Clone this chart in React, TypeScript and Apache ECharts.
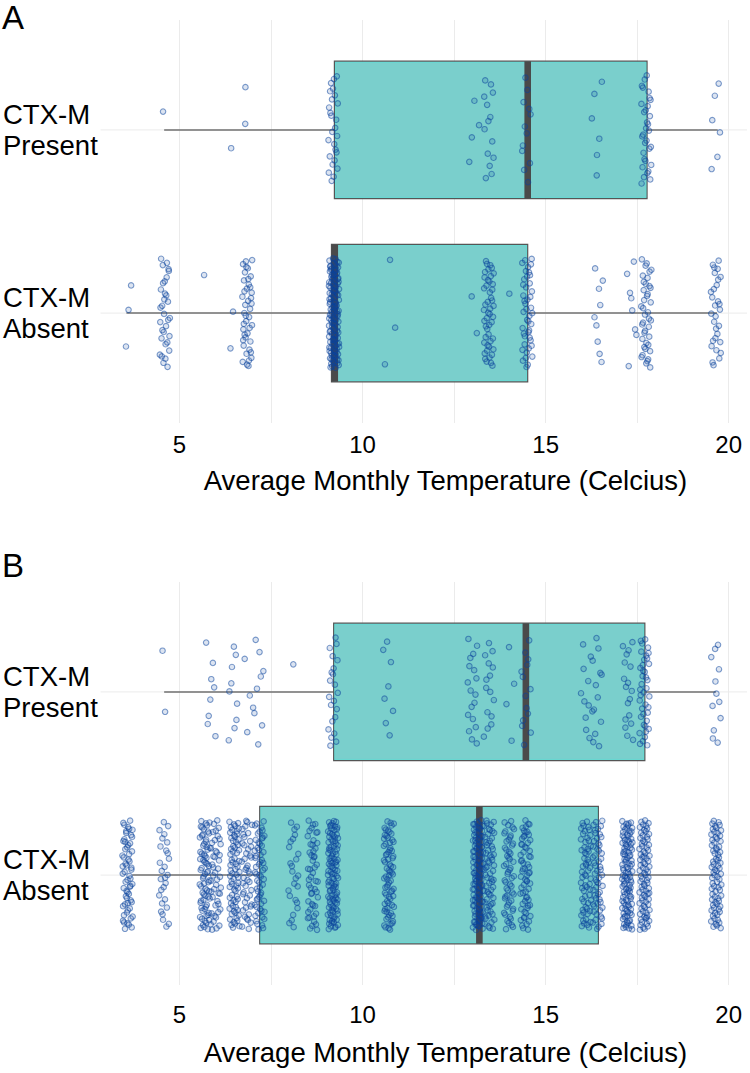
import React, { useEffect, useRef } from "react";
import * as echarts from "echarts";

// ---------------- data ----------------
const categories = ["CTX-M\nPresent", "CTX-M\nAbsent"];
const xTickValues = [5, 10, 15, 20];
const axisTitle = "Average Monthly Temperature (Celcius)";
const panelLabels = ["A", "B"];

// box statistics [min, Q1, median, Q3, max]
const boxAPresent = [4.58, 9.23, 14.51, 17.77, 19.7];
const boxAAbsent = [3.55, 9.15, 9.24, 14.51, 19.68];
const boxBPresent = [4.58, 9.21, 14.46, 17.71, 19.65];
const boxBAbsent = [3.71, 7.19, 13.19, 16.44, 19.56];

// observed temperature clusters (value, number of points)
const aPresentTemps = [4.55, 6.48, 6.73, 6.9, 9.2, 13.05, 13.45, 14.47, 16.4, 17.75, 19.65];
const aPresentCounts = [1, 1, 1, 1, 26, 4, 14, 12, 6, 32, 6];

const aAbsentTemps = [3.55, 4.6, 5.8, 6.45, 6.85, 9.22, 10.75, 13.05, 13.45, 14.1, 14.5, 16.45, 17.35, 17.75, 19.65];
const aAbsentCounts = [3, 32, 1, 2, 42, 130, 3, 2, 48, 1, 44, 9, 8, 40, 30];

const bPresentTemps = [4.58, 5.85, 6.45, 6.85, 7.15, 8.23, 9.2, 10.7, 13.0, 13.45, 14.05, 14.47, 16.1, 16.4, 17.25, 17.7, 19.65];
const bPresentCounts = [2, 8, 9, 3, 9, 1, 22, 8, 18, 15, 4, 14, 10, 13, 18, 40, 12];

const bAbsentTemps = [3.58, 4.58, 5.69, 5.99, 6.5, 6.84, 7.19, 8.11, 8.64, 9.19, 10.72, 13.15, 13.46, 14.0, 14.45, 16.1, 16.42, 17.23, 17.7, 19.66];
const bAbsentCounts = [60, 28, 70, 45, 70, 45, 60, 25, 50, 110, 75, 120, 65, 55, 65, 60, 55, 110, 85, 75];

// ---------------- presentation constants ----------------
const FONT = "'Liberation Sans', Arial, Helvetica, sans-serif";
const X_MIN = 2.5;
const X_MAX = 20.5;
const X_STEP = 2.5;
const PANEL_X_START = 2.843;
const BOX_WIDTH = 0.75;
const JITTER_X = 0.14;
const JITTER_Y = 0.3;

// deterministic low-discrepancy sequence used only for display jitter
function halton(i: number, b: number) {
  let f = 1;
  let r = 0;
  let n = i;
  while (n > 0) {
    f /= b;
    r += f * (n % b);
    n = Math.floor(n / b);
  }
  return r;
}

function jitterPoints(temps: number[], counts: number[], cat: number, seed: number) {
  const pts: number[][] = [];
  let k = seed;
  temps.forEach((t, ci) => {
    for (let j = 0; j < counts[ci]; j++) {
      k += 1;
      const dx = (halton(k, 2) - 0.5) * 2 * JITTER_X;
      const dy = (halton(k, 3) - 0.5) * 2 * JITTER_Y;
      pts.push([t + dx, cat + dy]);
    }
  });
  return pts;
}

function boxRender(params: any, api: any) {
  const cat = api.value(0);
  const mn = api.value(1);
  const q1 = api.value(2);
  const md = api.value(3);
  const q3 = api.value(4);
  const mx = api.value(5);
  const h = api.size([0, BOX_WIDTH])[1];
  const gL = api.coord([PANEL_X_START, cat]);
  const gR = api.coord([X_MAX, cat]);
  const pMin = api.coord([mn, cat]);
  const pQ1 = api.coord([q1, cat]);
  const pMd = api.coord([md, cat]);
  const pQ3 = api.coord([q3, cat]);
  const pMax = api.coord([mx, cat]);
  const cy = pQ1[1];
  return {
    type: "group",
    children: [
      { type: "line", shape: { x1: gL[0], y1: cy, x2: gR[0], y2: cy }, style: { stroke: "#ebebeb", lineWidth: 1 } },
      { type: "line", shape: { x1: pMin[0], y1: cy, x2: pQ1[0], y2: cy }, style: { stroke: "#717171", lineWidth: 1.5 } },
      { type: "line", shape: { x1: pQ3[0], y1: cy, x2: pMax[0], y2: cy }, style: { stroke: "#717171", lineWidth: 1.5 } },
      {
        type: "rect",
        shape: { x: pQ1[0], y: cy - h / 2, width: pQ3[0] - pQ1[0], height: h },
        style: { fill: "#7acfcc", stroke: "#555555", lineWidth: 1.2 },
      },
      {
        type: "rect",
        shape: { x: pQ1[0] + 1.2, y: cy - h / 2 + 1.2, width: pQ3[0] - pQ1[0] - 2.4, height: h - 2.4 },
        style: { fill: "none", stroke: "rgba(90,225,215,0.7)", lineWidth: 0.8 },
      },
      {
        type: "rect",
        shape: { x: pMd[0] - 3.3, y: cy - h / 2, width: 6.6, height: h },
        style: { fill: "#4a4a4a" },
      },
    ],
  };
}

export default function App() {
  const ref = useRef<HTMLDivElement>(null);

  useEffect(() => {
    if (!ref.current) return;
    const chart = echarts.init(ref.current, undefined, { renderer: "svg" });

    const xAxisBase = (labelMargin: number, nameGap: number, gridIndex: number) => ({
      type: "value",
      gridIndex,
      min: X_MIN,
      max: X_MAX,
      interval: X_STEP,
      axisLine: { show: false },
      axisTick: { show: false },
      axisLabel: {
        margin: labelMargin,
        fontSize: 24,
        color: "#000",
        fontFamily: FONT,
        formatter: (v: number) => (xTickValues.indexOf(v) >= 0 ? String(v) : ""),
      },
      splitLine: { show: true, showMinLine: false, showMaxLine: false, lineStyle: { color: "#ebebeb", width: 1 } },
      name: axisTitle,
      nameLocation: "middle",
      nameGap,
      nameTextStyle: { fontSize: 27.5, color: "#000", fontFamily: FONT, padding: [0, 0, 0, 56] },
    });

    const yAxisBase = (gridIndex: number) => ({
      type: "value",
      gridIndex,
      min: 0.4,
      max: 2.6,
      inverse: true,
      axisLine: { show: false },
      axisTick: { show: false },
      splitLine: { show: false },
      axisLabel: {
        customValues: [1, 2],
        formatter: (v: number) => (v === 1 || v === 2 ? categories[v - 1] : ""),
        align: "left",
        margin: 85,
        fontSize: 27.5,
        lineHeight: 31,
        padding: [8, 0, 0, 0],
        color: "#000",
        fontFamily: FONT,
      },
    });

    const scatterStyle = {
      type: "scatter",
      symbol: "circle",
      symbolSize: 5.5,
      z: 5,
      itemStyle: { color: "rgba(12,68,156,0.18)", borderColor: "rgba(12,68,156,0.66)", borderWidth: 1.1 },
    };

    chart.setOption({
      animation: false,
      backgroundColor: "#ffffff",
      title: [
        { text: panelLabels[0], left: 2, top: 1, padding: 0, textStyle: { fontSize: 33, fontWeight: "normal", color: "#000", fontFamily: FONT } },
        { text: panelLabels[1], left: 2, top: 549, padding: 0, textStyle: { fontSize: 33, fontWeight: "normal", color: "#000", fontFamily: FONT } },
      ],
      grid: [
        { left: 85.27, top: 20, width: 667.7, height: 403 },
        { left: 85.27, top: 582, width: 667.7, height: 403 },
      ],
      xAxis: [xAxisBase(9, 43, 0), xAxisBase(17, 53, 1)],
      yAxis: [yAxisBase(0), yAxisBase(1)],
      series: [
        {
          type: "custom",
          xAxisIndex: 0,
          yAxisIndex: 0,
          z: 2,
          renderItem: boxRender,
          encode: { x: [1, 2, 3, 4, 5], y: 0 },
          data: [[1, ...boxAPresent], [2, ...boxAAbsent]],
        },
        {
          ...scatterStyle,
          xAxisIndex: 0,
          yAxisIndex: 0,
          data: [
            ...jitterPoints(aPresentTemps, aPresentCounts, 1, 0),
            ...jitterPoints(aAbsentTemps, aAbsentCounts, 2, 300),
          ],
        },
        {
          type: "custom",
          xAxisIndex: 1,
          yAxisIndex: 1,
          z: 2,
          renderItem: boxRender,
          encode: { x: [1, 2, 3, 4, 5], y: 0 },
          data: [[1, ...boxBPresent], [2, ...boxBAbsent]],
        },
        {
          ...scatterStyle,
          xAxisIndex: 1,
          yAxisIndex: 1,
          data: [
            ...jitterPoints(bPresentTemps, bPresentCounts, 1, 1000),
            ...jitterPoints(bAbsentTemps, bAbsentCounts, 2, 1500),
          ],
        },
      ],
    });

    return () => chart.dispose();
  }, []);

  return (
    <div
      ref={ref}
      style={{ position: "absolute", left: 0, top: 0, width: 750, height: 1073, background: "#fff" }}
    />
  );
}
